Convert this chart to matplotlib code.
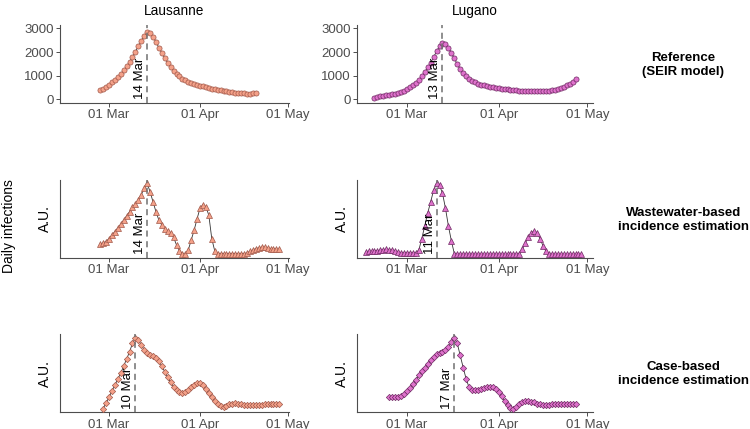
import numpy as np
import pandas as pd
import matplotlib
matplotlib.use('Agg')
import matplotlib.pyplot as plt
import matplotlib.dates as mdates

plt.rcParams['font.family'] = ['Liberation Sans', 'DejaVu Sans']

######################################################################
# Data (daily values)
cities = ['Lausanne', 'Lugano']
row_titles = ['Reference\n(SEIR model)',
              'Wastewater-based\nincidence estimation',
              'Case-based\nincidence estimation']

# reference (SEIR model), daily infections
lau_seir_start = '2020-02-27'
lau_seir = [380, 450, 530, 620, 720, 830, 950, 1080, 1230, 1400, 1590, 1800,
            2020, 2250, 2480, 2690, 2840, 2820, 2650, 2430, 2190, 1960, 1740,
            1540, 1370, 1220, 1090, 980, 880, 800, 740, 690, 650, 610, 580,
            550, 520, 490, 460, 435, 410, 385, 360, 340, 320, 300, 285, 270,
            258, 250, 245, 245, 250, 265]
lug_seir_start = '2020-02-19'
lug_seir = [80, 120, 140, 160, 175, 190, 210, 240, 280, 320, 370, 430, 510,
            600, 710, 840, 990, 1160, 1350, 1560, 1790, 2030, 2250, 2400,
            2360, 2190, 1970, 1730, 1490, 1280, 1110, 970, 860, 780, 720, 670,
            630, 600, 570, 545, 520, 500, 480, 460, 445, 430, 415, 400, 385,
            375, 365, 355, 345, 340, 335, 335, 340, 345, 355, 370, 390, 415,
            445, 485, 535, 595, 665, 750, 860]

# wastewater-based estimate (A.U.)
lau_ww_start = '2020-02-27'
lau_ww = [0.14, 0.16, 0.18, 0.22, 0.27, 0.32, 0.37, 0.42, 0.48, 0.54, 0.60,
          0.66, 0.71, 0.77, 0.84, 0.93, 1.00, 0.88, 0.74, 0.60, 0.48, 0.41,
          0.36, 0.33, 0.30, 0.24, 0.13, 0.05, 0.01, 0.00, 0.06, 0.20, 0.34,
          0.50, 0.65, 0.70, 0.67, 0.55, 0.22, 0.05, 0.01, 0.01, 0.01, 0.01,
          0.01, 0.01, 0.01, 0.01, 0.01, 0.01, 0.02, 0.04, 0.06, 0.08, 0.09,
          0.10, 0.10, 0.09, 0.08, 0.08, 0.07, 0.07]
lug_ww_start = '2020-02-16'
lug_ww = [0.03, 0.04, 0.04, 0.05, 0.05, 0.06, 0.06, 0.07, 0.06, 0.06, 0.05,
          0.03, 0.02, 0.02, 0.02, 0.02, 0.02, 0.02, 0.06, 0.22, 0.40, 0.58,
          0.74, 0.90, 1.00, 0.97, 0.86, 0.65, 0.40, 0.19, 0.01,
          0, 0, 0, 0, 0, 0, 0, 0, 0, 0, 0, 0, 0, 0, 0, 0, 0, 0, 0, 0, 0,
          0.01, 0.07, 0.16, 0.24, 0.30, 0.33, 0.30, 0.22, 0.12, 0.04,
          0, 0, 0, 0, 0, 0, 0, 0, 0, 0, 0, 0]

# case-based estimate (A.U.)
lau_case_start = '2020-02-28'
lau_case = [0.00, 0.08, 0.16, 0.25, 0.33, 0.42, 0.50, 0.60, 0.70, 0.80, 0.92,
            1.00, 0.97, 0.90, 0.83, 0.78, 0.76, 0.74, 0.72, 0.67, 0.60, 0.52,
            0.44, 0.37, 0.31, 0.26, 0.23, 0.22, 0.23, 0.26, 0.30, 0.34, 0.36,
            0.36, 0.33, 0.28, 0.22, 0.16, 0.11, 0.07, 0.04, 0.03, 0.04, 0.06,
            0.07, 0.08, 0.07, 0.06, 0.05, 0.05, 0.05, 0.05, 0.05, 0.05, 0.05,
            0.06, 0.06, 0.06, 0.06, 0.06, 0.06]
lug_case_start = '2020-02-24'
lug_case = [0.16, 0.16, 0.16, 0.16, 0.18, 0.21, 0.25, 0.29, 0.35, 0.41, 0.47,
            0.53, 0.58, 0.63, 0.68, 0.73, 0.77, 0.79, 0.80, 0.83, 0.87, 0.94,
            1.00, 0.92, 0.75, 0.58, 0.42, 0.30, 0.26, 0.26, 0.27, 0.28, 0.29,
            0.30, 0.30, 0.30, 0.28, 0.24, 0.18, 0.11, 0.05, 0.01, 0.00, 0.03,
            0.07, 0.10, 0.11, 0.11, 0.10, 0.09, 0.07, 0.06, 0.05, 0.05, 0.05,
            0.06, 0.06, 0.07, 0.07, 0.07, 0.07, 0.07, 0.07, 0.07]

x_ticks = ['2020-03-01', '2020-04-01', '2020-05-01']
y_ticks_ref = [0, 1000, 2000, 3000]

######################################################################
LAU_FILL, LAU_EDGE = '#f4a189', '#a0584a'
LUG_FILL, LUG_EDGE = '#df72cc', '#6e2a62'
AXIS_GREY = '#4d4d4d'


def draw_panel(ax, start, values, fill, edge, marker, ms, ylim, xlim):
    dates = pd.date_range(start, periods=len(values), freq='D')
    vals = np.array(values, dtype=float)
    ax.plot(dates, vals, color='#333333', lw=0.6, zorder=2)
    ax.plot(dates, vals, ls='none', marker=marker, ms=ms, mfc=fill,
            mec=edge, mew=0.5, zorder=3)

    # dashed line at the peak day
    peak = dates[int(np.argmax(vals))]
    ax.axvline(peak, color='#707070', ls=(0, (4, 3)), lw=1.1, zorder=4)
    ax.text(peak - pd.Timedelta(hours=8), 0, peak.strftime('%d %b'),
            rotation=90, ha='right', va='bottom', fontsize=9.5,
            color='black', zorder=5)

    ax.set_xlim(pd.Timestamp(xlim[0]), pd.Timestamp(xlim[1]))
    ax.set_ylim(*ylim)
    ax.set_xticks([pd.Timestamp(t) for t in x_ticks])
    ax.xaxis.set_major_formatter(mdates.DateFormatter('%d %b'))
    for s in ['top', 'right']:
        ax.spines[s].set_visible(False)
    for s in ['left', 'bottom']:
        ax.spines[s].set_color(AXIS_GREY)
        ax.spines[s].set_linewidth(0.8)
    ax.tick_params(axis='both', colors=AXIS_GREY, labelsize=9.5,
                   length=3, width=0.7, pad=1.5)
    ax.tick_params(axis='both', labelcolor=AXIS_GREY)


fig = plt.figure(figsize=(7.5, 4.29), dpi=100)

rows_b = [0.760, 0.399, 0.039]
row_h = 0.182
cols = [(0.080, 0.305, ('2020-02-13 08:00', '2020-05-01 05:00')),
        (0.476, 0.315, ('2020-02-13 02:00', '2020-05-03'))]

panels = [
    [(lau_seir_start, lau_seir), (lug_seir_start, lug_seir)],
    [(lau_ww_start, lau_ww), (lug_ww_start, lug_ww)],
    [(lau_case_start, lau_case), (lug_case_start, lug_case)],
]
markers = [('o', 3.7), ('^', 4.4), ('D', 3.2)]
styles = [(LAU_FILL, LAU_EDGE), (LUG_FILL, LUG_EDGE)]

for r in range(3):
    for c in range(2):
        left, width, xlim = cols[c]
        ax = fig.add_axes([left, rows_b[r], width, row_h])
        start, vals = panels[r][c]
        if r == 0:
            ylim = (-150, 3150)
        else:
            ylim = (-0.05, 1.05)
        draw_panel(ax, start, vals, styles[c][0], styles[c][1],
                   markers[r][0], markers[r][1], ylim, xlim)
        if r == 0:
            ax.set_yticks(y_ticks_ref)
            ax.set_title(cities[c], fontsize=9.8, pad=7)
        else:
            ax.set_yticks([])
            ax.set_ylabel('A.U.', fontsize=10, labelpad=6)

for r in range(3):
    fig.text(0.911, rows_b[r] + 0.089, row_titles[r], ha='center',
             va='center', fontsize=9.5, fontweight='bold', linespacing=1.2)

fig.text(0.012, 0.473, 'Daily infections', rotation=90, ha='center',
         va='center', fontsize=10)

fig.savefig('out.png', dpi=100)
